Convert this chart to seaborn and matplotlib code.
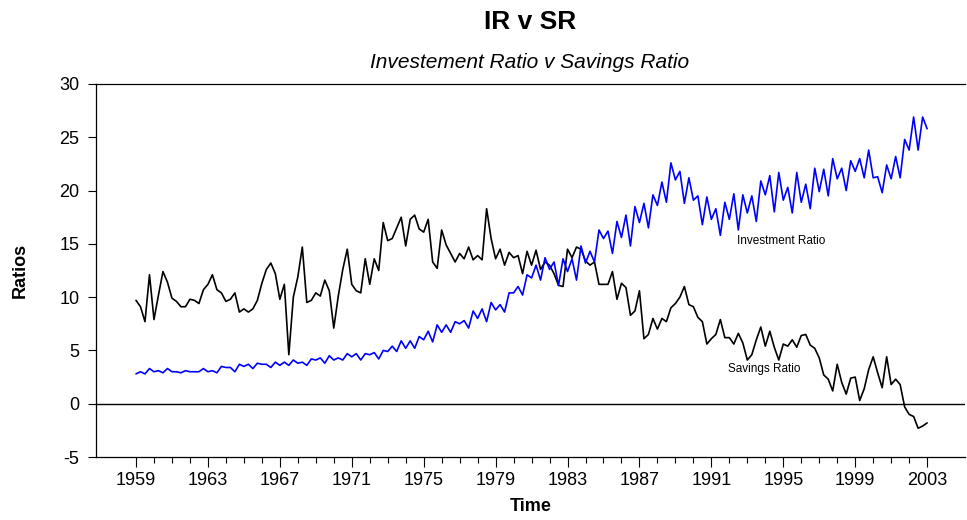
import matplotlib
matplotlib.use("Agg")
import matplotlib.pyplot as plt
import seaborn as sns
import numpy as np
import pandas as pd

# Quarterly data 1959Q1 .. 2003Q1
start_year = 1959
savings_ratio = [
    9.7, 9.1, 7.7, 12.1, 7.9, 10.2, 12.4, 11.4, 9.9, 9.6,
    9.1, 9.1, 9.8, 9.7, 9.4, 10.7, 11.2, 12.1, 10.7, 10.4,
    9.6, 9.8, 10.4, 8.6, 8.9, 8.6, 8.9, 9.7, 11.3, 12.6,
    13.2, 12.2, 9.8, 11.2, 4.6, 10.0, 11.9, 14.7, 9.5, 9.7,
    10.4, 10.1, 11.6, 10.6, 7.1, 10.1, 12.6, 14.5, 11.2, 10.6,
    10.4, 13.6, 11.2, 13.6, 12.5, 17.0, 15.3, 15.5, 16.5, 17.5,
    14.8, 17.3, 17.7, 16.4, 16.1, 17.3, 13.3, 12.7, 16.3, 14.9,
    14.1, 13.3, 14.1, 13.6, 14.7, 13.5, 13.9, 13.5, 18.3, 15.5,
    13.6, 14.5, 13.0, 14.2, 13.7, 13.9, 12.2, 14.3, 13.0, 14.4,
    12.6, 13.3, 13.0, 12.2, 11.1, 11.0, 14.5, 13.7, 14.7, 14.5,
    13.4, 13.0, 13.3, 11.2, 11.2, 11.2, 12.4, 9.8, 11.3, 10.9,
    8.3, 8.7, 10.6, 6.1, 6.5, 8.0, 7.0, 8.0, 7.7, 9.0,
    9.4, 10.0, 11.0, 9.3, 9.1, 8.1, 7.7, 5.6, 6.1, 6.5,
    7.9, 6.2, 6.2, 5.6, 6.6, 5.7, 4.1, 4.6, 6.0, 7.2,
    5.4, 6.8, 5.3, 4.1, 5.6, 5.4, 6.0, 5.3, 6.4, 6.5,
    5.5, 5.2, 4.3, 2.7, 2.3, 1.2, 3.7, 2.0, 0.9, 2.4,
    2.5, 0.3, 1.4, 3.2, 4.4, 2.9, 1.5, 4.4, 1.8, 2.3,
    1.8, -0.3, -1.0, -1.2, -2.3, -2.1, -1.8,
]
investment_ratio = [
    2.8, 3.0, 2.8, 3.3, 3.0, 3.1, 2.9, 3.3, 3.0, 3.0,
    2.9, 3.1, 3.0, 3.0, 3.0, 3.3, 3.0, 3.1, 2.9, 3.5,
    3.4, 3.4, 3.0, 3.7, 3.5, 3.7, 3.3, 3.8, 3.7, 3.7,
    3.4, 3.9, 3.6, 3.9, 3.6, 4.1, 3.8, 3.9, 3.6, 4.2,
    4.1, 4.3, 3.8, 4.5, 4.1, 4.3, 4.1, 4.7, 4.4, 4.7,
    4.1, 4.7, 4.6, 4.8, 4.2, 5.0, 4.9, 5.4, 4.9, 5.9,
    5.2, 5.9, 5.2, 6.3, 6.0, 6.8, 5.8, 7.4, 6.7, 7.4,
    6.7, 7.7, 7.5, 7.8, 7.1, 8.7, 8.0, 8.9, 7.7, 9.5,
    8.8, 9.3, 8.6, 10.4, 10.4, 11.0, 10.2, 12.1, 11.8, 13.0,
    11.6, 13.7, 12.6, 13.3, 11.1, 13.6, 12.4, 13.6, 11.6, 14.8,
    13.2, 14.3, 13.3, 16.3, 15.5, 16.2, 14.1, 17.1, 15.6, 17.7,
    14.8, 18.5, 17.0, 18.8, 16.5, 19.6, 18.6, 20.8, 18.9, 22.6,
    21.0, 21.8, 18.8, 21.2, 19.1, 19.5, 16.8, 19.4, 17.3, 18.3,
    15.8, 18.9, 17.3, 19.7, 16.3, 19.6, 17.9, 19.5, 17.1, 20.9,
    19.6, 21.4, 18.0, 21.7, 19.1, 20.3, 17.9, 21.7, 18.9, 20.6,
    18.3, 22.1, 19.9, 22.0, 19.5, 23.0, 21.1, 22.1, 20.0, 22.8,
    21.8, 23.0, 21.2, 23.8, 21.2, 21.3, 19.8, 22.4, 21.1, 23.2,
    21.2, 24.8, 23.8, 26.9, 23.8, 26.9, 25.8,
]
year_ticks = list(range(1959, 2004, 4))
title = "IR v SR"
subtitle = "Investement Ratio v Savings Ratio"

n = len(savings_ratio)
time = start_year + np.arange(n) / 4.0
df = pd.DataFrame({"Time": time, "Savings Ratio": savings_ratio,
                   "Investment Ratio": investment_ratio})
long = df.melt(id_vars="Time", var_name="Series", value_name="Ratio")

sns.set_style("white")
plt.rcParams["font.family"] = ["Liberation Sans", "DejaVu Sans"]
plt.rcParams["axes.unicode_minus"] = False
for k in ["text.color", "axes.labelcolor", "xtick.color", "ytick.color",
          "xtick.labelcolor", "ytick.labelcolor"]:
    plt.rcParams[k] = "black"

W, H = 967, 520
fig = plt.figure(figsize=(W / 100, H / 100), dpi=100)
ax = fig.add_axes([96 / W, 1 - 457 / H, (965 - 96) / W, (457 - 84) / H])

sns.lineplot(data=long, x="Time", y="Ratio", hue="Series",
             palette={"Savings Ratio": "black", "Investment Ratio": "#0000ff"},
             linewidth=1.2, ax=ax, legend=False, estimator=None)

ax.axhline(0, color="black", linewidth=1.0, zorder=0)

ax.set_xlim(1959 + (96 - 136) / 17.98, 1959 + (965 - 136) / 17.98)
ax.set_ylim(-5, 30)
ax.set_yticks(range(-5, 31, 5))
ax.set_xticks(year_ticks)
ax.set_xticks(range(1959, 2004), minor=True)
ax.set_xticklabels([str(y) for y in year_ticks])

ax.tick_params(axis="y", direction="out", length=6, width=0.8, labelsize=13,
               left=True, pad=6, colors="black")
ax.tick_params(axis="x", which="major", direction="out", length=7, width=0.8,
               labelsize=13, bottom=True, pad=4, colors="black")
ax.tick_params(axis="x", which="minor", direction="out", length=4, width=0.8,
               bottom=True, colors="black")

for s in ["left", "bottom", "top", "right"]:
    ax.spines[s].set_color("black")
    ax.spines[s].set_linewidth(0.9)
ax.spines["right"].set_visible(False)

ax.set_xlabel("Time", fontsize=13, fontweight="bold", labelpad=6, color="black")
ax.set_ylabel("Ratios", fontsize=13, fontweight="bold", labelpad=22, color="black")

ax.text(1992.4, 15.3, "Investment Ratio", fontsize=8.5, va="center", ha="left")
ax.text(1991.9, 3.3, "Savings Ratio", fontsize=8.5, va="center", ha="left")

fig.text(530 / W, 1 - 22 / H, title, fontsize=19, fontweight="bold",
         ha="center", va="center", color="black")
fig.text(530 / W, 1 - 63 / H, subtitle, fontsize=15, fontstyle="italic",
         ha="center", va="center", color="black")

fig.savefig("out.png", dpi=100)
